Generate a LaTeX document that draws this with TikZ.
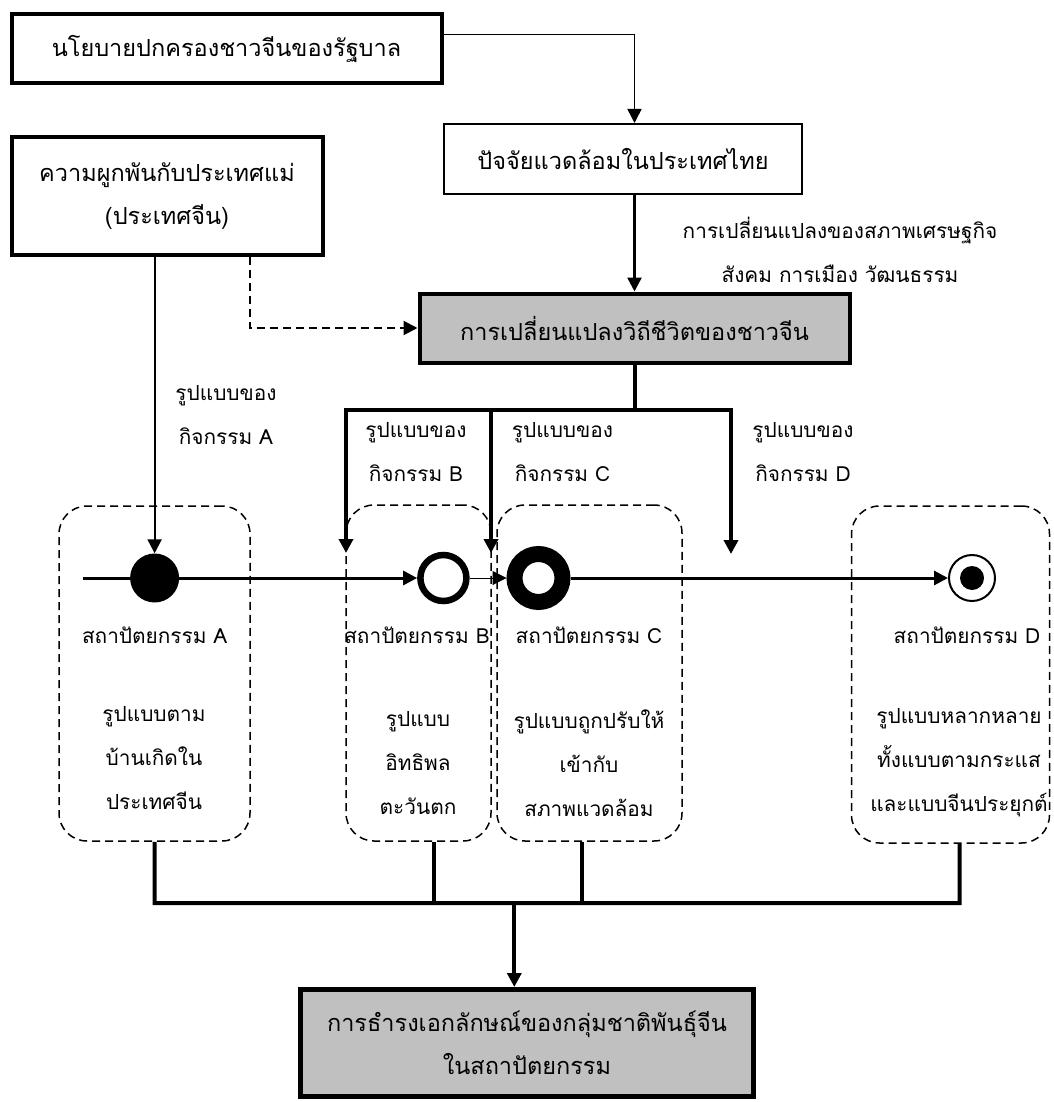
\documentclass[tikz,border=0pt]{standalone}
\usepackage{fontspec}
\setmainfont[Script=Thai]{Loma}
\usetikzlibrary{arrows.meta}
\definecolor{boxgray}{RGB}{192,192,192}

\begin{document}
\begin{tikzpicture}[x=1pt,y=-1pt,
  >={Triangle[length=14pt,width=14pt]},
  font=\fontsize{20.8}{44}\selectfont,
  bigbox/.style={draw,line width=4pt,inner sep=0pt,align=center,font=\fontsize{23.5}{43}\selectfont},
  thinbox/.style={draw,line width=2pt,inner sep=0pt,align=center,font=\fontsize{23.5}{43}\selectfont},
  region/.style={draw,line width=1.5pt,dash pattern=on 8pt off 5pt,rounded corners=28pt,inner sep=0pt},
  lbl/.style={align=center,inner sep=0pt},
  wire/.style={line width=2pt},
  bus/.style={line width=4pt,line join=miter}]

\useasboundingbox (0,0) rectangle (1053,1102);

% boxes
\node[bigbox,minimum width=430pt,minimum height=69pt] (pol) at (226.5,49) {นโยบายปกครองชาวจีนของรัฐบาล};
\node[bigbox,minimum width=311pt,minimum height=118pt] (tie) at (167,196) {ความผูกพันกับประเทศแม่\\(ประเทศจีน)};
\node[thinbox,minimum width=358pt,minimum height=70pt] (env) at (623,159) {ปัจจัยแวดล้อมในประเทศไทย};
\node[bigbox,fill=boxgray,minimum width=430pt,minimum height=69pt] (life) at (634.5,328) {การเปลี่ยนแปลงวิถีชีวิตของชาวจีน};
\node[bigbox,line width=5pt,fill=boxgray,minimum width=453pt,minimum height=107pt] (keep) at (527,1043) {การธำรงเอกลักษณ์ของกลุ่มชาติพันธุ์จีน\\ในสถาปัตยกรรม};

% dashed regions
\node[region,minimum width=191pt,minimum height=335pt] (regA) at (154.5,673.5) {};
\node[region,minimum width=145pt,minimum height=336pt] (regB) at (418.5,673) {};
\node[region,minimum width=185pt,minimum height=336pt] (regC) at (589.5,673) {};
\node[region,minimum width=198pt,minimum height=337pt] (regD) at (950.5,674.5) {};

% states
\node[circle,fill=black,inner sep=0pt,minimum size=49pt] (ca) at (154.6,578) {};
\node[circle,draw,fill=white,line width=6.5pt,inner sep=0pt,minimum size=46pt] (cb) at (443.4,578) {};
\node[circle,draw,fill=white,line width=16pt,inner sep=0pt,minimum size=48pt] (cc) at (538.5,578) {};
\node[circle,draw,fill=white,line width=2pt,inner sep=0pt,minimum size=46pt] (cd) at (972,578) {};
\node[circle,fill=black,inner sep=0pt,minimum size=24pt] (cdd) at (cd) {};

% labels
\node[lbl] (chg) at (840,249.5) {การเปลี่ยนแปลงของสภาพเศรษฐกิจ\\สังคม การเมือง วัฒนธรรม};
\node[lbl] (actA) at (226,415) {รูปแบบของ\\กิจกรรม A};
\node[lbl] (actB) at (416,452) {รูปแบบของ\\กิจกรรม B};
\node[lbl] (actC) at (562.5,452) {รูปแบบของ\\กิจกรรม C};
\node[lbl] (actD) at (803,452) {รูปแบบของ\\กิจกรรม D};

\node[lbl] (nameA) at (154.7,635.5) {สถาปัตยกรรม A};
\node[lbl] (nameB) at (417,635.5) {สถาปัตยกรรม B};
\node[lbl] (nameC) at (589,635.5) {สถาปัตยกรรม C};
\node[lbl] (nameD) at (967,635.5) {สถาปัตยกรรม D};

\node[lbl] (descA) at (154,758.5) {รูปแบบตาม\\บ้านเกิดใน\\ประเทศจีน};
\node[lbl] (descB) at (418,763) {รูปแบบ\\อิทธิพล\\ตะวันตก};
\node[lbl] (descC) at (589,763) {รูปแบบถูกปรับให้\\เข้ากับ\\สภาพแวดล้อม};
\node[lbl] (descD) at (959,762.5) {รูปแบบหลากหลาย\\ทั้งแบบตามกระแส\\และแบบจีนประยุกต์};

% free ends
\coordinate (start) at (83.4,578);
\coordinate (brL) at (346,410);
\coordinate (brM) at (491,410);
\coordinate (brR) at (731,410);
\coordinate (tB) at (346,553);
\coordinate (tC) at (491,553);
\coordinate (tD) at (731,554);
\coordinate (jA) at (154.6,903);
\coordinate (jB) at (433.6,903);
\coordinate (jC) at (581.5,903);
\coordinate (jD) at (959.6,903);
\coordinate (jK) at (514.3,903);

% top connectors
\draw[line width=1.5pt,->] (pol.east |- 0,34.6) -| (env.north -| life.north);
\draw[line width=2.5pt,->] (env.south -| life.north) -- (life.north);
\draw[wire,->] (tie.south -| ca) -- (ca.north);
\draw[wire,dash pattern=on 8pt off 5pt,->] (tie.south -| 250.4,0) |- (life.west);

% activity bracket
\draw[bus] (life.south) -- (life.south |- brL);
\draw[bus,<->] (tB) -- (brL) -- (brR) -- (tD);
\draw[bus,->] (brM) -- (tC);

% time line
\draw[line width=3pt,->] (start) -- (cb.west);
\draw[line width=1pt,->] (cb.east) -- (cc.west);
\draw[line width=3pt,->] (cc.east) -- (cd.west);

% collector
\draw[bus] (regA.south) -- (jA) -- (jD) -- (regD.south -| jD);
\draw[bus] (regB.south -| jB) -- (jB);
\draw[bus] (regC.south -| jC) -- (jC);
\draw[bus,->] (jK) -- (keep.north -| jK);

\end{tikzpicture}
\end{document}
